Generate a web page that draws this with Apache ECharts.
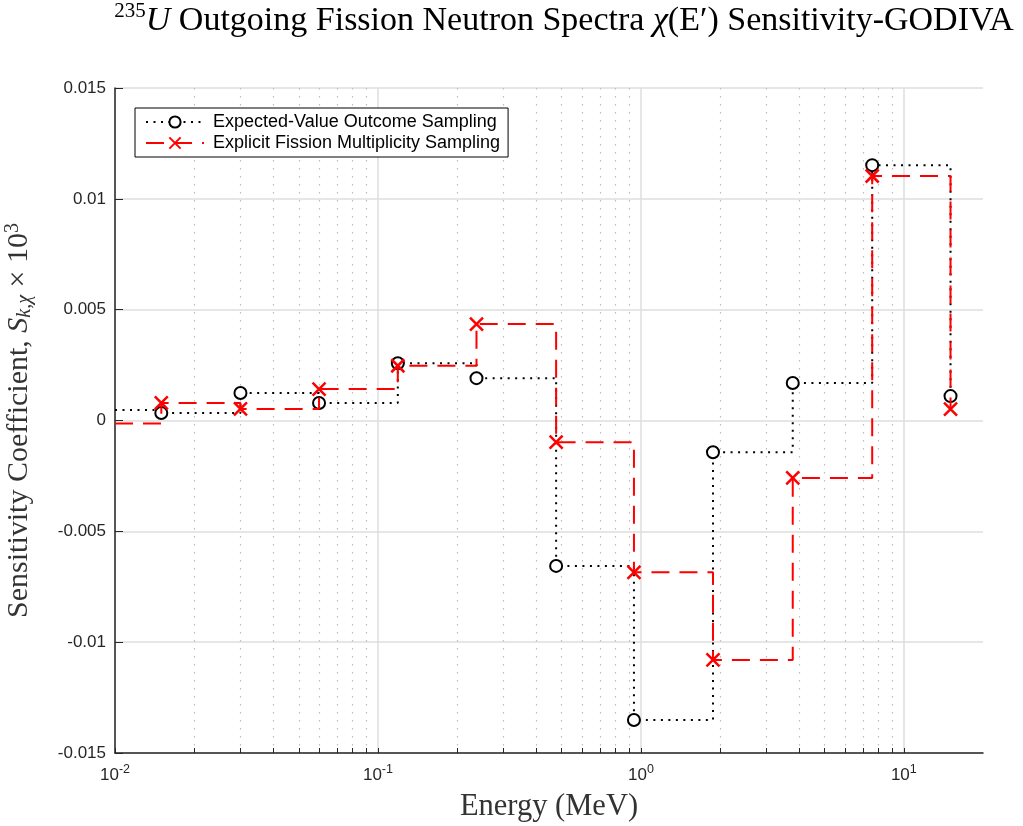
<!DOCTYPE html>
<html>
<head>
<meta charset="utf-8">
<script src="https://cdn.jsdelivr.net/npm/echarts@6/dist/echarts.min.js"></script>
<style>
html,body{margin:0;padding:0;background:#fff;}
#chart{width:1023px;height:826px;}
</style>
</head>
<body>
<div id="chart"></div>
<script>
// Energy points (MeV): first entry is the left edge of the first step (no marker)
const energies = [0.01, 0.0150, 0.0300, 0.0597, 0.119, 0.237, 0.476, 0.941, 1.88, 3.78, 7.58, 15.05];
const expectedValueSampling = [0.00047, 0.00034, 0.00124, 0.00079, 0.00258, 0.00191, -0.00656, -0.01351, -0.00143, 0.00169, 0.01152, 0.00110];
const explicitMultiplicitySampling = [-0.00013, 0.00079, 0.00052, 0.00142, 0.00247, 0.00435, -0.00098, -0.00685, -0.01080, -0.00259, 0.01103, 0.00051];
const seriesNames = ['Expected-Value Outcome Sampling', 'Explicit Fission Multiplicity Sampling'];
const majorXTicks = [0.01, 0.1, 1, 10];
const minorXTicks = [0.02,0.03,0.04,0.05,0.06,0.07,0.08,0.09,0.2,0.3,0.4,0.5,0.6,0.7,0.8,0.9,2,3,4,5,6,7,8,9];

function buildData(vals) {
  return energies.map((e, i) => i === 0 ? {value: [e, vals[i]], symbol: 'none'} : [e, vals[i]]);
}

const AX = '#262626';
const SANS = 'Liberation Sans, Arial, Helvetica, sans-serif';
const SERIF = 'Liberation Serif, Times New Roman, serif';
const X_SYMBOL = 'path://M0,0L10,10M10,0L0,10';

const chart = echarts.init(document.getElementById('chart'), null, {renderer: 'canvas'});

const option = {
  animation: false,
  backgroundColor: '#fff',
  title: {
    text: '{sup|235}{it|U} Outgoing Fission Neutron Spectra {it|χ}(E′) Sensitivity-GODIVA',
    left: 564, top: 1, textAlign: 'center', padding: 0,
    textStyle: {
      fontFamily: SERIF, fontSize: 34, fontWeight: 'normal', color: '#000',
      rich: {
        sup: {fontFamily: SERIF, fontSize: 21, lineHeight: 20, verticalAlign: 'top', color: '#000'},
        it: {fontFamily: SERIF, fontSize: 34, fontStyle: 'italic', lineHeight: 40, color: '#000'}
      },
      lineHeight: 40
    }
  },
  legend: {
    orient: 'vertical', left: 135, top: 108,
    backgroundColor: '#fff', borderColor: '#000', borderWidth: 1,
    padding: [5, 8, 5, 10], itemGap: 3, itemWidth: 58, itemHeight: 14,
    textStyle: {fontFamily: SANS, fontSize: 18, color: '#000', padding: [0, 0, 0, 4]},
    data: seriesNames
  },
  grid: {left: 115, top: 88, width: 868, height: 665, outerBoundsMode: 'none', containLabel: false},
  xAxis: [
    {
      type: 'log', logBase: 10, min: 0.01, max: 20, gridIndex: 0, position: 'bottom',
      name: 'Energy (MeV)', nameLocation: 'middle', nameGap: 38,
      nameTextStyle: {fontFamily: SERIF, fontSize: 30.5, color: '#333'},
      axisLine: {show: true, onZero: false, lineStyle: {color: AX, width: 1.5}},
      axisTick: {show: true, inside: true, length: 5, customValues: majorXTicks.concat(minorXTicks), lineStyle: {color: AX, width: 1}},
      axisLabel: {
        show: true, margin: 10, customValues: majorXTicks,
        formatter: v => '{b|10}{s|' + Math.round(Math.log10(v)) + '}',
        rich: {
          b: {fontFamily: SANS, fontSize: 17, color: AX, lineHeight: 24},
          s: {fontFamily: SANS, fontSize: 12.5, color: AX, lineHeight: 12, verticalAlign: 'top'}
        }
      },
      splitLine: {show: false}
    },
    {
      type: 'log', logBase: 10, min: 0.01, max: 20, gridIndex: 0, position: 'top',
      axisLine: {show: false, onZero: false}, axisLabel: {show: false},
      axisTick: {show: false, customValues: majorXTicks},
      splitLine: {show: true, lineStyle: {color: '#dedede', width: 1.5, type: 'solid'}}
    },
    {
      type: 'log', logBase: 10, min: 0.01, max: 20, gridIndex: 0, position: 'top',
      axisLine: {show: false, onZero: false}, axisLabel: {show: false},
      axisTick: {show: false, customValues: minorXTicks},
      splitLine: {show: true, lineStyle: {color: '#bdbdbd', width: 1.2, type: [1.5, 6.5]}}
    }
  ],
  yAxis: {
    type: 'value', min: -0.015, max: 0.015, interval: 0.005,
    name: '{t|Sensitivity Coefficient, }{it|S}{sub|k,χ}{t| × 10}{sup|3}',
    nameLocation: 'middle', nameGap: 80, nameRotate: 90,
    nameTextStyle: {
      rich: {
        t: {fontFamily: SERIF, fontSize: 30, color: '#333', lineHeight: 32},
        it: {fontFamily: SERIF, fontSize: 30, fontStyle: 'italic', color: '#333', lineHeight: 32},
        sub: {fontFamily: SERIF, fontSize: 20, fontStyle: 'italic', color: '#333', lineHeight: 14, verticalAlign: 'bottom'},
        sup: {fontFamily: SERIF, fontSize: 20, color: '#333', lineHeight: 14, verticalAlign: 'top'}
      }
    },
    axisLine: {show: true, onZero: false, lineStyle: {color: AX, width: 1.5}},
    axisTick: {show: true, inside: true, length: 8, lineStyle: {color: AX, width: 1}},
    axisLabel: {fontFamily: SANS, fontSize: 17, color: AX, margin: 9},
    splitLine: {show: true, lineStyle: {color: '#dedede', width: 1.5}}
  },
  series: [
    {
      name: seriesNames[0], type: 'line', step: 'end', xAxisIndex: 0,
      data: buildData(expectedValueSampling),
      symbol: 'emptyCircle', symbolSize: 12,
      lineStyle: {color: '#000', width: 2, type: [2, 5.5]},
      itemStyle: {color: '#000', borderColor: '#000', borderWidth: 2},
      z: 3
    },
    {
      name: seriesNames[1], type: 'line', step: 'end', xAxisIndex: 0,
      data: buildData(explicitMultiplicitySampling),
      symbol: X_SYMBOL, symbolSize: 13,
      lineStyle: {color: '#ff0000', width: 2, type: [18, 10]},
      itemStyle: {color: '#ff0000', borderColor: '#ff0000', borderWidth: 2.5},
      z: 4
    }
  ]
};
chart.setOption(option);
</script>
</body>
</html>
